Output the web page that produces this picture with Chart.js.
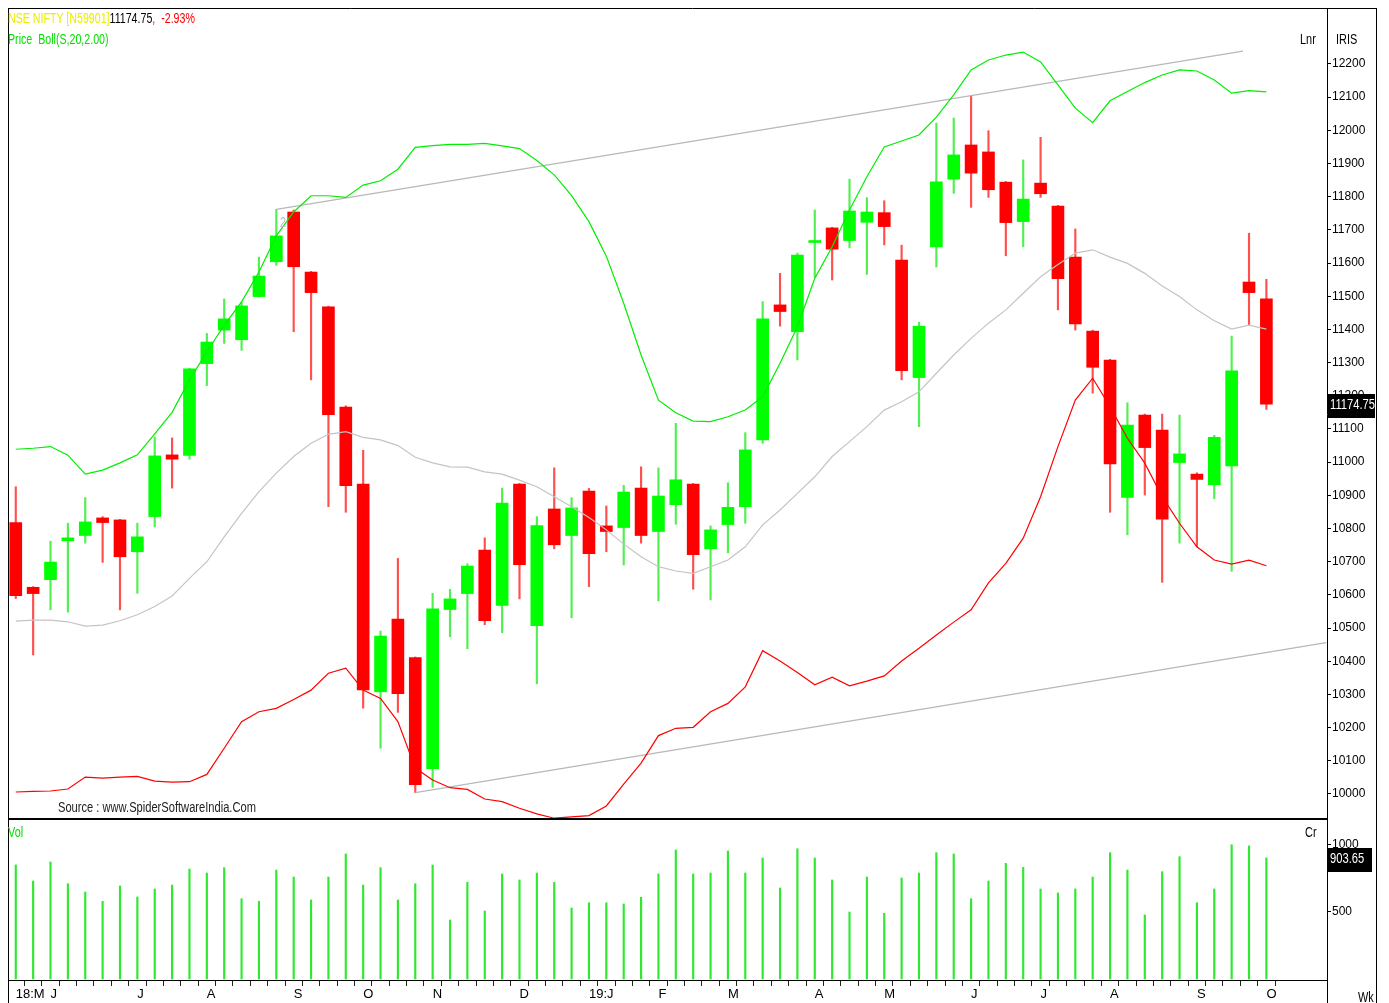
<!DOCTYPE html>
<html>
<head>
<meta charset="utf-8">
<title>NSE NIFTY weekly - Bollinger</title>
<script src="https://cdn.jsdelivr.net/npm/chart.js@4.4.1/dist/chart.umd.min.js"></script>
<style>
  body { margin: 0; background: #fff; }
  #wrap { position: relative; width: 1389px; height: 1003px; overflow: hidden;
          font-family: 'Liberation Sans', Arial, sans-serif; font-size: 14px; color: #000; }
  canvas { position: absolute; left: 0; }
  #price { top: 0; }
  #vol { top: 820px; }
  .t { position: absolute; white-space: pre; line-height: 1; transform-origin: 0 50%; transform: scaleX(0.78); }
</style>
</head>
<body>
<div id="wrap">
  <canvas id="price" width="1389" height="820"></canvas>
  <canvas id="vol" width="1389" height="183"></canvas>

  <div class="t" style="left:8px;top:11px;transform:scaleX(0.76)"><span style="color:#eded00">NSE NIFTY [N59901]</span><span>11174.75</span><span style="color:#ff0000">,  -2.93%</span></div>
  <div class="t" style="left:8px;top:32px;transform:scaleX(0.76);color:#00e000">Price  Boll(S,20,2.00)</div>
  <div class="t" style="left:1300px;top:32px">Lnr</div>
  <div class="t" style="left:1336px;top:32px">IRIS</div>
  <div class="t" style="left:280px;top:215px;color:#bbbbbb">2</div>
  <div class="t" style="left:58px;top:800px;color:#222;transform:scaleX(0.795)">Source : www.SpiderSoftwareIndia.Com</div>
  <div class="t" style="left:8px;top:825px;color:#00e000">Vol</div>
  <div class="t" style="left:1305px;top:825px">Cr</div>
  <div class="t" style="left:1358px;top:990px">Wk</div>
</div>

<script>
// weekly NIFTY, week ending 18 May 2018 .. 4 Oct 2019 (73 weeks)
const opens = [10818,10623,10646,10763,10779,10832,10826,10730,10836,11022,
  11020,11297,11398,11369,11499,11604,11754,11573,11468,11166,
  10934,10308,10527,10411,10076,10556,10604,10735,10568,10934,
  10507,10859,10779,10913,10808,10803,10922,10791,10872,10934,
  10739,10812,10866,11067,11474,11393,11662,11706,11668,11723,
  11752,11609,11255,11649,11853,11956,11935,11844,11725,11841,
  11772,11618,11395,11308,10894,11142,11097,10999,10964,10932,
  10989,11543,11492];
const highs = [10926,10625,10762,10816,10893,10836,10828,10816,11076,11073,
  11283,11388,11492,11482,11618,11762,11760,11575,11470,11170,
  11036,10491,10710,10413,10605,10617,10694,10772,10922,10936,
  10836,10983,10893,10921,10868,10930,10986,10983,11117,10936,
  10808,10938,11089,11484,11569,11630,11760,11708,11853,11797,
  11788,11654,11422,12022,12037,12104,11999,11846,11911,11979,
  11774,11703,11398,11310,11179,11145,11145,11142,10968,11081,
  11380,11690,11551];
const lows = [10589,10419,10555,10548,10756,10698,10555,10605,10805,10922,
  11009,11231,11358,11337,11498,11593,11393,11248,10866,10849,
  10259,10138,10246,10004,10020,10474,10438,10510,10486,10588,
  10332,10739,10531,10625,10730,10690,10756,10582,10813,10617,
  10585,10727,10816,11057,11410,11308,11557,11549,11646,11566,
  11655,11248,11107,11588,11810,11768,11798,11622,11649,11798,
  11459,11398,11208,10849,10781,10901,10638,10756,10745,10890,
  10671,11413,11159];
const closes = [10598,10604,10699,10772,10820,10818,10715,10775,11019,11009,
  11281,11362,11432,11471,11561,11682,11589,11511,11143,10929,
  10314,10476,10302,10028,10558,10588,10687,10522,10877,10691,
  10809,10751,10862,10724,10791,10910,10779,10898,10947,10721,
  10796,10864,11037,11432,11454,11624,11668,11642,11757,11754,
  11710,11276,11410,11845,11926,11871,11821,11722,11793,11809,
  11553,11417,11286,10995,11112,11044,10828,11025,10948,11075,
  11275,11511,11174.75];

// Bollinger (S,20,2) as plotted
const upperBand = [11039,11042,11047,11021,10964,10976,10998,11022,11085,11150,
  11248,11332,11413,11483,11573,11682,11754,11803,11803,11798,
  11835,11848,11883,11949,11954,11958,11958,11961,11953,11945,
  11909,11866,11803,11725,11621,11479,11323,11187,11149,11124,
  11122,11137,11157,11197,11298,11408,11554,11649,11760,11860,
  11950,11968,11986,12040,12107,12182,12212,12227,12236,12206,
  12137,12067,12023,12089,12117,12144,12167,12182,12179,12152,
  12112,12120,12116];
const midBand = [10521,10524,10524,10519,10506,10509,10522,10540,10565,10597,
  10650,10700,10775,10846,10911,10967,11017,11057,11084,11092,
  11075,11067,11050,11015,10998,10986,10985,10971,10964,10946,
  10926,10896,10866,10833,10796,10753,10715,10685,10672,10665,
  10685,10705,10745,10811,10856,10906,10956,11017,11062,11107,
  11157,11182,11212,11268,11323,11373,11419,11459,11509,11559,
  11596,11630,11640,11618,11599,11569,11531,11499,11459,11426,
  11401,11413,11401];
const lowerBand = [10006,10008,10009,10015,10051,10048,10051,10053,10039,10036,
  10037,10059,10138,10218,10248,10258,10285,10313,10364,10379,
  10313,10288,10218,10078,10042,10019,10014,9985,9977,9957,
  9940,9927,9931,9935,9964,10030,10093,10176,10198,10201,
  10248,10273,10323,10432,10401,10366,10329,10352,10326,10340,
  10356,10401,10439,10479,10518,10555,10636,10695,10771,10896,
  11047,11187,11253,11167,11072,10997,10896,10816,10745,10705,
  10693,10705,10688];

// volume, Cr
const volumes = [851,731,873,711,649,580,694,612,672,701,
  821,791,831,599,580,813,761,590,761,933,
  701,831,590,711,851,440,721,507,784,739,
  791,721,530,569,569,560,610,784,963,784,
  791,955,791,903,679,972,903,739,500,761,
  490,754,791,943,933,599,731,863,833,672,
  642,672,761,943,813,478,801,913,569,672,
  1002,993,903.65];

// channel lines: [week index, price]
const channelTop = [[15, 11762], [70.65, 12239]];
const channelBottom = [[23, 10004], [75.45, 10456]];

const priceTicks = [10000,10100,10200,10300,10400,10500,10600,10700,10800,10900,
  11000,11100,11200,11300,11400,11500,11600,11700,11800,11900,12000,12100,12200];
const volTicks = [500, 1000];
const monthIdx = [0,2,7,11,16,20,24,29,33,37,41,46,50,55,59,63,68,72];
const monthText = ['18:M','J','J','A','S','O','N','D','19:J','F','M','A','M','J','J','A','S','O'];

const FONT = "'Liberation Sans', Arial, sans-serif";
Chart.defaults.font.family = FONT;
Chart.defaults.font.size = 12;
Chart.defaults.color = '#000';

const idx = opens.map((_, i) => i);
const isUp = idx.map(i => closes[i] >= opens[i]);
const X_MIN = -0.39, X_MAX = 75.49;

function frame(isTop) {
  return {
    id: 'frame',
    afterDraw(chart) {
      const ctx = chart.ctx, h = chart.height;
      ctx.save();
      ctx.strokeStyle = '#000';
      ctx.lineWidth = 1;
      ctx.beginPath();
      ctx.moveTo(8.5, isTop ? 8 : 0); ctx.lineTo(8.5, h);
      ctx.moveTo(1376.5, isTop ? 8 : 0); ctx.lineTo(1376.5, h);
      if (isTop) { ctx.moveTo(8, 8.5); ctx.lineTo(1377, 8.5); }
      else { ctx.moveTo(1327.5, 0); ctx.lineTo(1327.5, h); }
      ctx.stroke();
      if (isTop) {
        ctx.lineWidth = 2;
        ctx.beginPath();
        ctx.moveTo(8, 819); ctx.lineTo(1327, 819);
        ctx.stroke();
      }
      ctx.restore();
    }
  };
}

function valueTag(val, label, w) {
  return {
    id: 'tag',
    afterDraw(chart) {
      const ctx = chart.ctx;
      const y = chart.scales.y.getPixelForValue(val);
      const x = chart.chartArea.right + 1;
      ctx.save();
      ctx.fillStyle = '#000';
      ctx.fillRect(x, Math.round(y) - 10, w, 24);
      ctx.fillStyle = '#fff';
      ctx.font = '14px ' + FONT;
      ctx.textBaseline = 'middle';
      ctx.translate(x + 2, y + 1);
      ctx.scale(0.8, 1);
      ctx.fillText(label, 0, 0);
      ctx.restore();
    }
  };
}

const lineDs = (vals, color) => ({
  type: 'line', data: vals.map((v, i) => ({x: i, y: v})),
  borderColor: color, borderWidth: 1.2, pointRadius: 0, tension: 0, order: 0
});
const segDs = (pts) => ({
  type: 'line', data: pts.map(p => ({x: p[0], y: p[1]})),
  borderColor: '#b8b8b8', borderWidth: 1.3, pointRadius: 0, order: 0
});
const plain = v => String(v);

new Chart(document.getElementById('price'), {
  type: 'bar',
  data: {
    datasets: [
      lineDs(upperBand, '#00ee00'),
      lineDs(midBand, '#c4c4c4'),
      lineDs(lowerBand, '#ff0000'),
      segDs(channelTop),
      segDs(channelBottom),
      { type: 'bar', data: idx.map(i => ({x: i, y: [opens[i], closes[i]]})),
        backgroundColor: isUp.map(u => u ? '#00ff00' : '#ff0000'),
        barThickness: 12, grouped: false, borderWidth: 0, order: 1 },
      { type: 'bar', data: idx.map(i => ({x: i, y: [lows[i], highs[i]]})),
        backgroundColor: isUp.map(u => u ? '#50f050' : '#ff5050'),
        barThickness: 1.5, grouped: false, borderWidth: 0, order: 2 }
    ]
  },
  options: {
    responsive: false, animation: false, events: [],
    layout: { padding: { left: 9, top: 9, right: 12, bottom: 1 } },
    plugins: { legend: { display: false }, tooltip: { enabled: false } },
    scales: {
      x: { type: 'linear', min: X_MIN, max: X_MAX, offset: false, display: false },
      y: {
        position: 'right', min: 9924.65, max: 12365.75,
        afterBuildTicks: s => { s.ticks = priceTicks.map(v => ({value: v})); },
        afterFit: s => { s.width = 50; s.paddingTop = 0; s.paddingBottom = 0; },
        grid: { drawOnChartArea: false, tickLength: 4, color: '#000' },
        border: { color: '#000' },
        ticks: { padding: 1, color: '#000', callback: plain }
      }
    }
  },
  plugins: [frame(true), valueTag(closes[closes.length - 1], '11174.75', 47)]
});

new Chart(document.getElementById('vol'), {
  type: 'bar',
  data: {
    datasets: [{
      data: volumes.map((v, i) => ({x: i, y: v})),
      backgroundColor: '#2fe82f', barThickness: 1.5, borderWidth: 0
    }]
  },
  options: {
    responsive: false, animation: false, events: [],
    layout: { padding: { left: 9, top: 1, right: 12, bottom: 0 } },
    plugins: { legend: { display: false }, tooltip: { enabled: false } },
    scales: {
      x: {
        type: 'linear', min: X_MIN, max: X_MAX, offset: false, position: 'bottom',
        afterBuildTicks: s => { s.ticks = idx.map(i => ({value: i})); },
        afterFit: s => { s.height = 23; s.paddingLeft = 0; s.paddingRight = 0; },
        grid: { drawOnChartArea: false, tickLength: 6, color: '#222' },
        border: { color: '#000' },
        ticks: {
          autoSkip: false, maxRotation: 0, minRotation: 0, align: 'start', padding: 1, color: '#000',
          font: { size: 13 },
          callback: v => { const k = monthIdx.indexOf(v); return k < 0 ? '' : monthText[k]; }
        }
      },
      y: {
        position: 'right', min: -7.46, max: 1179.1,
        afterBuildTicks: s => { s.ticks = volTicks.map(v => ({value: v})); },
        afterFit: s => { s.width = 50; s.paddingTop = 0; s.paddingBottom = 0; },
        grid: { drawOnChartArea: false, tickLength: 4, color: '#000' },
        border: { color: '#000' },
        ticks: { padding: 1, color: '#000', callback: plain }
      }
    }
  },
  plugins: [frame(false), valueTag(volumes[volumes.length - 1], '903.65', 44)]
});
</script>
</body>
</html>
